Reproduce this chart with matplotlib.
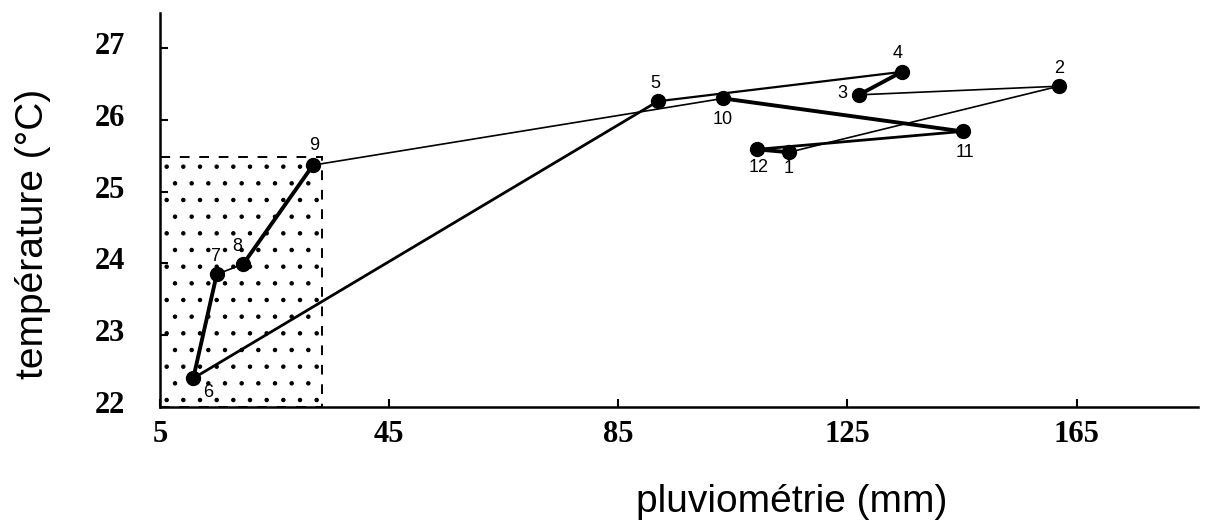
import matplotlib
matplotlib.use("Agg")
import matplotlib.pyplot as plt
from matplotlib.patches import Rectangle
from matplotlib.transforms import ScaledTranslation

# ---- data ----
months = ["1", "2", "3", "4", "5", "6", "7", "8", "9", "10", "11", "12"]
rain_mm = [114.8, 161.9, 127.0, 134.5, 91.9, 10.8, 14.9, 19.5, 31.7, 103.3, 145.1, 109.2]
temp_c = [25.55, 26.47, 26.35, 26.67, 26.26, 22.40, 23.85, 23.99, 25.37, 26.30, 25.84, 25.59]

x_ticks = [5, 45, 85, 125, 165]
x_ticklabels = ["5", "45", "85", "125", "165"]
y_ticks = [22, 23, 24, 25, 26, 27]
y_ticklabels = ["22", "23", "24", "25", "26", "27"]

dry_rain_limit = 33.3
dry_temp_limit = 25.48

# ---- styles ----
# line width (pt) of segment from month i to month i+1 (cyclic)
seg_widths = [1.2, 1.2, 2.8, 1.6, 2.0, 2.8, 1.2, 2.8, 1.2, 2.8, 2.0, 2.8]
# label offsets in points (dx, dy)
label_offsets = [(0, -12), (0, 13), (-12, 1), (-3, 13), (-2, 13), (11, -10),
                 (-1, 13), (-4, 13), (1, 14), (0, -15), (2, -15), (1, -13)]

plt.rcParams["hatch.linewidth"] = 0.8

fig = plt.figure(figsize=(12.06, 5.31), dpi=100)
ax = fig.add_axes([0.1327, 0.2335, 0.8607, 0.742])

# dry-period stippled box
box = Rectangle((x_ticks[0], y_ticks[0]), dry_rain_limit - x_ticks[0],
                dry_temp_limit - y_ticks[0], facecolor="none",
                edgecolor="black", hatch=".", linestyle=(0, (5, 5)),
                linewidth=1.4, zorder=1)
ax.add_patch(box)

n = len(months)
for i in range(n):
    j = (i + 1) % n
    ax.plot([rain_mm[i], rain_mm[j]], [temp_c[i], temp_c[j]], color="black",
            linewidth=seg_widths[i], solid_capstyle="round", zorder=2)

ax.plot(rain_mm, temp_c, linestyle="none", marker="o", markersize=10,
        color="black", zorder=3)

for m, x, y, (dx, dy) in zip(months, rain_mm, temp_c, label_offsets):
    ax.annotate(m, (x, y), xytext=(dx, dy), textcoords="offset points",
                ha="center", va="center", fontsize=13,
                family="Liberation Sans", zorder=4)

ax.set_xlim(5, 186.2)
ax.set_ylim(22, 27.49)
ax.spines["top"].set_visible(False)
ax.spines["right"].set_visible(False)
ax.spines["left"].set_linewidth(1.8)
ax.spines["bottom"].set_linewidth(1.8)

ax.set_xticks(x_ticks)
ax.set_xticklabels(x_ticklabels)
ax.set_yticks(y_ticks)
ax.set_yticklabels(y_ticklabels)
ax.tick_params(axis="both", direction="in", length=6, width=1.5)
ax.tick_params(axis="x", pad=9)
ax.tick_params(axis="y", pad=25)
up = ScaledTranslation(0, 5 / 100, fig.dpi_scale_trans)
for lab in ax.get_xticklabels() + ax.get_yticklabels():
    lab.set_fontfamily("Liberation Serif")
    lab.set_fontsize(22)
    lab.set_fontweight("bold")
for lab in ax.get_yticklabels():
    lab.set_transform(lab.get_transform() + up)

ax.set_xlabel("pluviométrie (mm)", fontsize=28, family="Liberation Sans")
ax.xaxis.set_label_coords(0.609, -0.195)
ax.set_ylabel("température (°C)", fontsize=28, family="Liberation Sans")
ax.yaxis.set_label_coords(-0.105, 0.44)

fig.savefig("out.png", dpi=100)
